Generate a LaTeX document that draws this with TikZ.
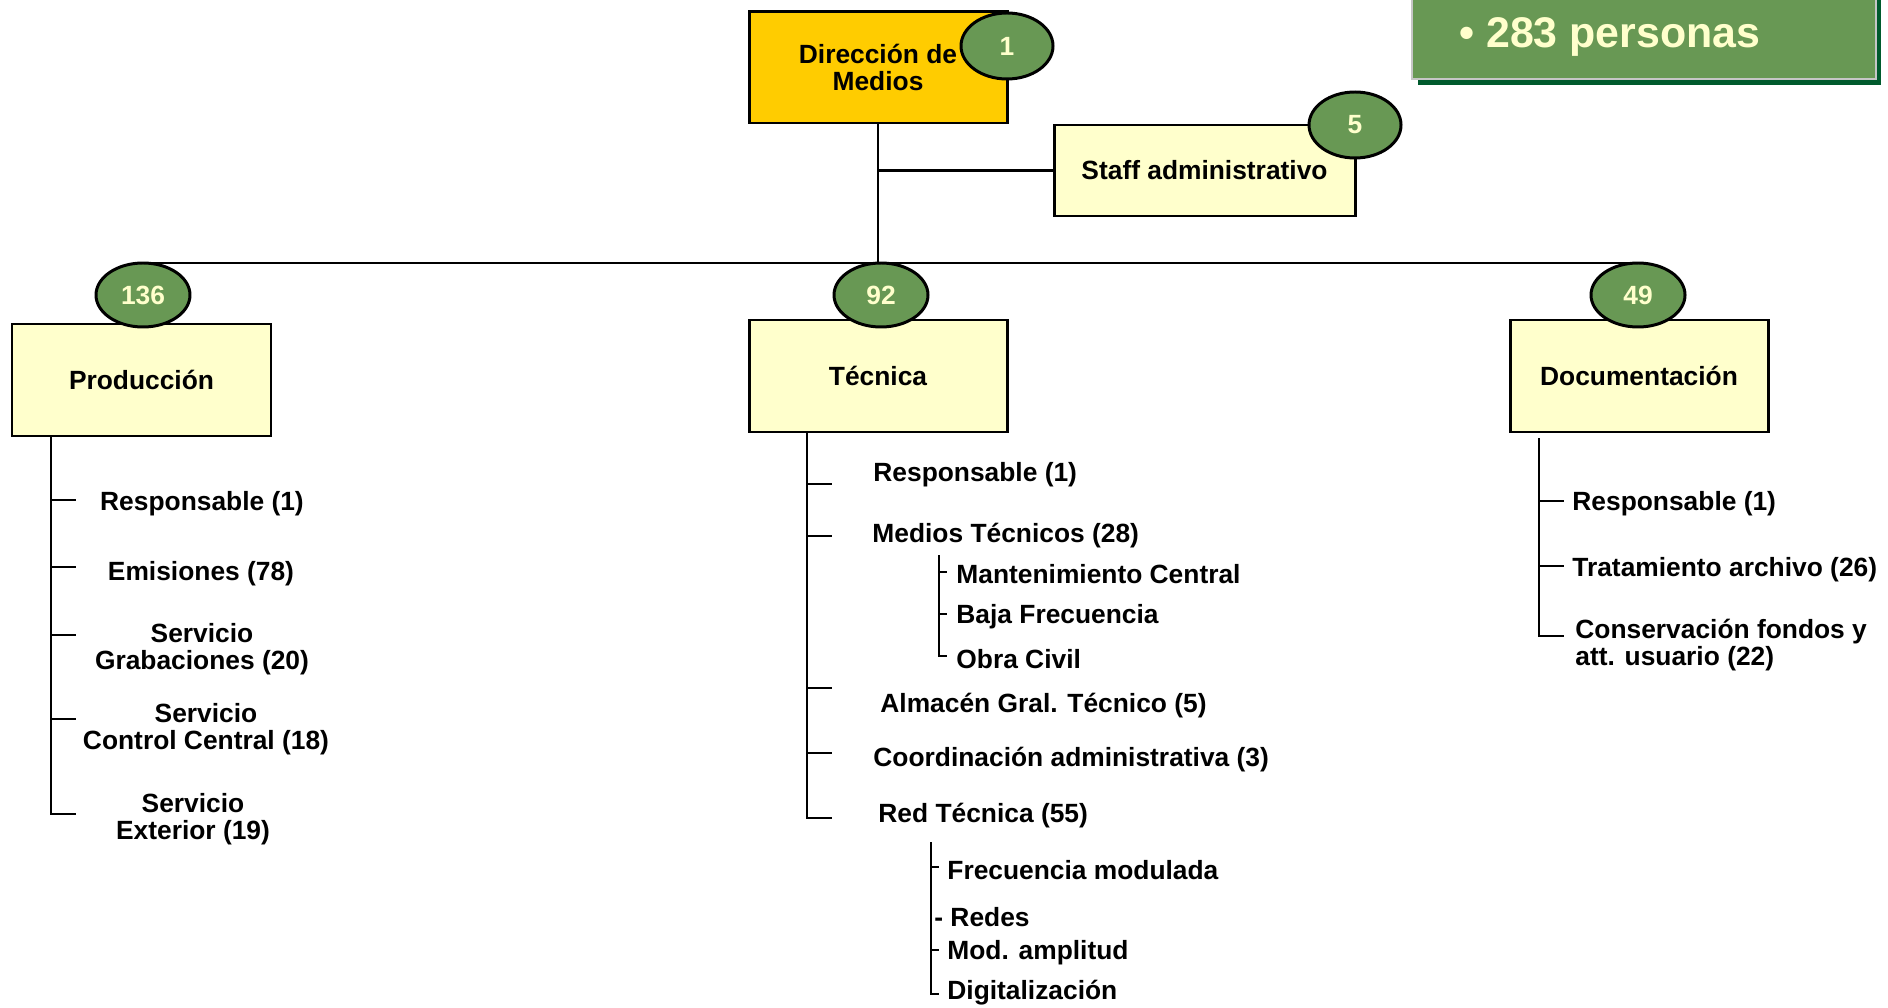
\documentclass[tikz,border=0pt]{standalone}
\usepackage{fontspec}
\setmainfont{Liberation Sans}
\usetikzlibrary{shapes.geometric}

\definecolor{cream}{RGB}{255,255,204}
\definecolor{gold}{RGB}{255,204,0}
\definecolor{leaf}{RGB}{104,152,84}
\definecolor{pine}{RGB}{0,90,45}

\newcommand{\orgfont}{\bfseries\fontsize{7.5}{7.9}\selectfont}

\tikzset{
  unitbox/.style={draw, fill=cream, line width=0.85pt, inner sep=0pt, outer sep=0pt, align=center, font=\orgfont},
  countbubble/.style={ellipse, draw, fill=leaf, line width=0.85pt, inner sep=0pt, outer sep=0pt, text=cream, font=\orgfont},
  listitem/.style={inner sep=0pt, anchor=west, align=left, yshift=-0.9pt, font=\orgfont},
  centeritem/.style={inner sep=0pt, align=center, yshift=-0.9pt, font=\orgfont}
}

\begin{document}
\begin{tikzpicture}[line cap=rect, line join=miter, line width=0.8pt]
		\useasboundingbox (0,0) rectangle (18.88,-10.08);
		
		% Summary box at the top (cut by the page edge)
		\fill[pine] (14.18,0.1) rectangle (18.81,-0.85);
		\draw[fill=leaf, draw=gray!45, line width=0.6pt] (14.12,0.2) rectangle (18.76,-0.79);
		\node[inner sep=0pt, anchor=west, text=cream, font=\bfseries\fontsize{12.2}{14}\selectfont] (total) at (14.58,-0.37) {• 283 personas};
		
		% Main boxes
		\node[unitbox, fill=gold, minimum width=2.58cm, minimum height=1.11cm] (dir) at (8.78,-0.675) {Dirección de\\Medios};
		\node[unitbox, minimum width=3.01cm, minimum height=0.91cm] (staff) at (12.045,-1.705) {Staff administrativo};
		\node[unitbox, minimum width=2.59cm, minimum height=1.12cm] (prod) at (1.415,-3.80) {Producción};
		\node[unitbox, minimum width=2.58cm, minimum height=1.12cm] (tec) at (8.78,-3.76) {Técnica};
		\node[unitbox, minimum width=2.58cm, minimum height=1.12cm] (doc) at (16.39,-3.76) {Documentación};
		
		% Head counts
		\node[countbubble, minimum width=0.92cm, minimum height=0.66cm] (c1) at (10.07,-0.46) {1};
		\node[countbubble, minimum width=0.92cm, minimum height=0.66cm] (c5) at (13.55,-1.25) {5};
		\node[countbubble, minimum width=0.94cm, minimum height=0.64cm] (c136) at (1.43,-2.95) {136};
		\node[countbubble, minimum width=0.94cm, minimum height=0.64cm] (c92) at (8.81,-2.95) {92};
		\node[countbubble, minimum width=0.94cm, minimum height=0.64cm] (c49) at (16.38,-2.95) {49};
		
		% Connectors of the chart
		\draw (dir.south) -- (dir.south |- c92.north);
		\draw (c136.north) -- (c49.north);
		\draw (staff.west) -- (staff.west -| dir.south);
		
		% Producción list
		\coordinate (pT) at (0.51,-4.36);
		\coordinate (p1) at (0.75,-5.00);
		\coordinate (p2) at (0.75,-5.67);
		\coordinate (p3) at (0.75,-6.35);
		\coordinate (p4) at (0.75,-7.19);
		\coordinate (p5) at (0.75,-8.14);
		\draw (pT) |- (p5);
		\draw (p1 -| pT) -- (p1);
		\draw (p2 -| pT) -- (p2);
		\draw (p3 -| pT) -- (p3);
		\draw (p4 -| pT) -- (p4);
		\node[centeritem] (pr1) at (2.02,-5.01) {Responsable (1)};
		\node[centeritem] (pr2) at (2.01,-5.71) {Emisiones (78)};
		\node[centeritem] (pr3) at (2.02,-6.46) {Servicio\\Grabaciones (20)};
		\node[centeritem] (pr4) at (2.06,-7.26) {Servicio\\Control Central (18)};
		\node[centeritem] (pr5) at (1.93,-8.16) {Servicio\\Exterior (19)};
		
		% Técnica list
		\coordinate (tT) at (8.07,-4.32);
		\coordinate (t1) at (8.31,-4.84);
		\coordinate (t2) at (8.31,-5.36);
		\coordinate (t3) at (8.31,-6.88);
		\coordinate (t4) at (8.31,-7.53);
		\coordinate (t5) at (8.31,-8.18);
		\draw (tT) |- (t5);
		\draw (t1 -| tT) -- (t1);
		\draw (t2 -| tT) -- (t2);
		\draw (t3 -| tT) -- (t3);
		\draw (t4 -| tT) -- (t4);
		\node[listitem] (te1) at (8.72,-4.72) {Responsable (1)};
		\node[listitem] (te2) at (8.71,-5.32) {Medios Técnicos (28)};
		\node[listitem] (te3) at (8.79,-7.02) {Almacén Gral. Técnico (5)};
		\node[listitem] (te4) at (8.72,-7.56) {Coordinación administrativa (3)};
		\node[listitem] (te5) at (8.77,-8.12) {Red Técnica (55)};
		
		% Medios Técnicos sub-list
		\coordinate (mT) at (9.39,-5.56);
		\coordinate (m1) at (9.46,-5.72);
		\coordinate (m2) at (9.46,-6.14);
		\coordinate (m3) at (9.46,-6.56);
		\draw[line width=0.6pt] (mT) |- (m3);
		\draw[line width=0.6pt] (m1 -| mT) -- (m1);
		\draw[line width=0.6pt] (m2 -| mT) -- (m2);
		\node[listitem] (mt1) at (9.55,-5.71) {Mantenimiento Central};
		\node[listitem] (mt2) at (9.55,-6.14) {Baja Frecuencia};
		\node[listitem] (mt3) at (9.55,-6.56) {Obra Civil};
		
		% Red Técnica sub-list
		\coordinate (rT) at (9.31,-8.43);
		\coordinate (r1) at (9.38,-8.67);
		\coordinate (r3) at (9.38,-9.50);
		\coordinate (r4) at (9.38,-9.94);
		\draw[line width=0.6pt] (rT) |- (r4);
		\draw[line width=0.6pt] (r1 -| rT) -- (r1);
		\draw[line width=0.6pt] (r3 -| rT) -- (r3);
		\node[listitem] (rt1) at (9.46,-8.67) {Frecuencia modulada};
		\node[listitem] (rt2) at (9.33,-9.14) {- Redes};
		\node[listitem] (rt3) at (9.46,-9.50) {Mod. amplitud};
		\node[listitem] (rt4) at (9.46,-9.89) {Digitalización};
		
		% Documentación list
		\coordinate (dT) at (15.39,-4.39);
		\coordinate (d1) at (15.63,-5.01);
		\coordinate (d2) at (15.63,-5.66);
		\coordinate (d3) at (15.63,-6.36);
		\draw (dT) |- (d3);
		\draw (d1 -| dT) -- (d1);
		\draw (d2 -| dT) -- (d2);
		\node[listitem] (do1) at (15.71,-5.01) {Responsable (1)};
		\node[listitem] (do2) at (15.71,-5.67) {Tratamiento archivo (26)};
		\node[listitem] (do3) at (15.74,-6.42) {Conservación fondos y\\att. usuario (22)};
	\end{tikzpicture}
\end{document}
